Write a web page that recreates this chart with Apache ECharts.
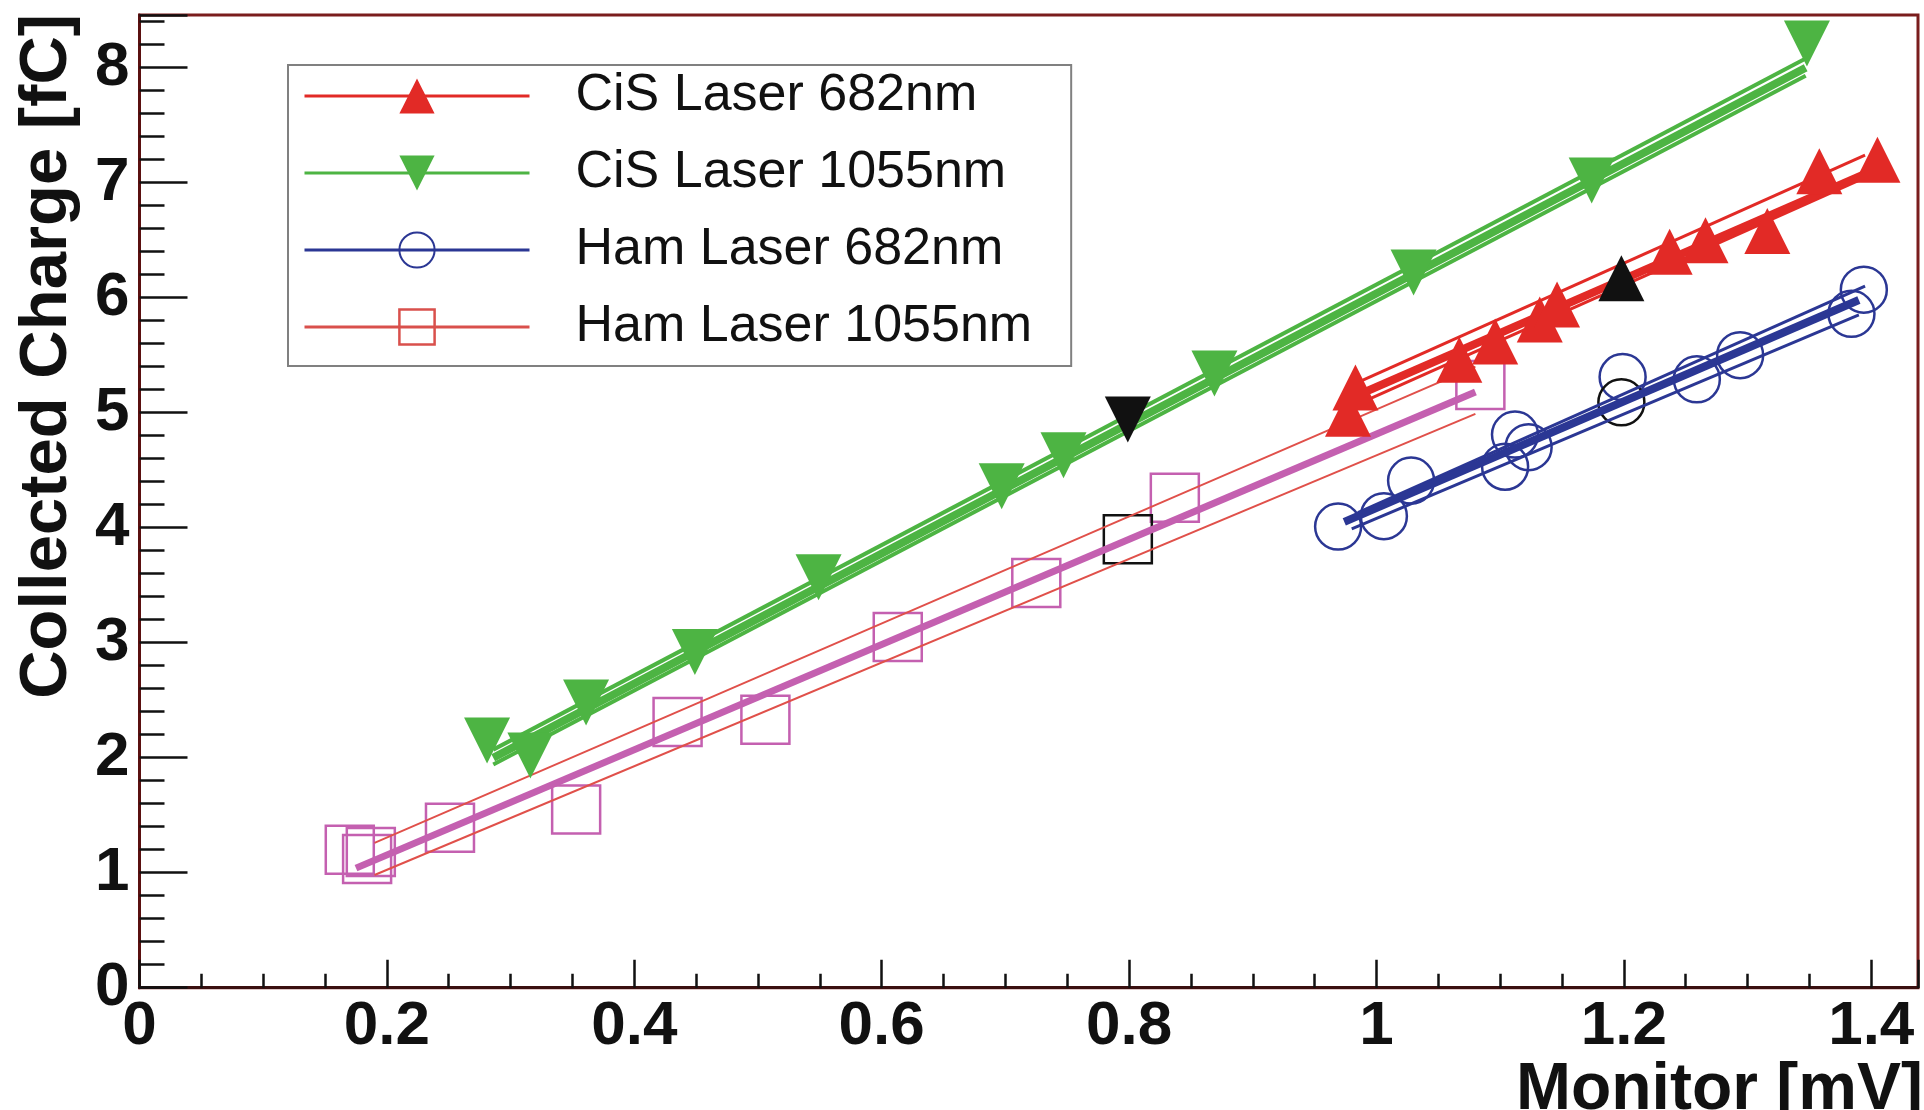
<!DOCTYPE html>
<html>
<head>
<meta charset="utf-8">
<script src="https://cdn.jsdelivr.net/npm/echarts@6/dist/echarts.min.js"></script>
<style>
html,body{margin:0;padding:0;background:#fff;}
#chart{width:1924px;height:1110px;}
</style>
</head>
<body>
<div id="chart"></div>
<script>
// ---- data ----
const seriesNames = ['CiS Laser 682nm', 'CiS Laser 1055nm', 'Ham Laser 682nm', 'Ham Laser 1055nm'];

const cis682 = [[0.977,4.99],[0.983,5.22],[1.067,5.46],[1.096,5.62],[1.132,5.81],[1.146,5.94],[1.237,6.40],[1.266,6.50],[1.316,6.58],[1.358,7.10],[1.405,7.20]];
const cis1055 = [[0.281,2.15],[0.316,2.02],[0.361,2.48],[0.449,2.92],[0.549,3.57],[0.697,4.36],[0.747,4.63],[0.869,5.34],[1.030,6.22],[1.174,7.02],[1.348,8.21]];
const ham682 = [[0.969,4.01],[1.006,4.10],[1.028,4.41],[1.104,4.53],[1.112,4.81],[1.123,4.70],[1.199,5.31],[1.259,5.29],[1.294,5.50],[1.384,5.86],[1.394,6.07]];
const ham1055 = [[0.170,1.20],[0.184,1.12],[0.187,1.18],[0.251,1.39],[0.353,1.55],[0.435,2.31],[0.506,2.33],[0.613,3.05],[0.725,3.52],[0.837,4.26],[1.084,5.24]];

// black reference points
const refCiS682 = [[1.198,6.17]];
const refCiS1055 = [[0.799,4.94]];
const refHam682 = [[1.198,5.09]];
const refHam1055 = [[0.799,3.90]];

// fit lines (central, upper, lower) endpoints
const fitCiS682 = [[0.98,5.13],[1.40,7.10]];
const fitCiS682Up = [[0.98,5.24],[1.395,7.24]];
const fitCiS682Lo = [[0.98,5.05],[1.39,7.02]];
const fitCiS1055 = [[0.286,2.00],[1.347,8.00]];
const fitCiS1055Up = [[0.286,2.07],[1.347,8.08]];
const fitCiS1055Lo = [[0.286,1.94],[1.347,7.93]];
const fitHam682 = [[0.974,4.05],[1.39,5.98]];
const fitHam682Up = [[0.985,4.13],[1.395,6.10]];
const fitHam682Lo = [[0.98,3.99],[1.39,5.85]];
const fitHam1055 = [[0.175,1.04],[1.08,5.18]];
const fitHam1055Up = [[0.19,1.26],[1.08,5.40]];
const fitHam1055Lo = [[0.19,0.98],[1.08,4.99]];

const xTicks = { min: 0, max: 1.4378, interval: 0.2 };
const yTicks = { min: 0, max: 8.458, interval: 1 };

// ---- styles ----
const RED = '#e22a26', GREEN = '#4db443', BLUE = '#2b3794', MAG = '#c460b0', THINRED = '#e0504a', LEGRED = '#d9504c';
const INV_TRI = 'path://M0,0L20,0L10,20Z';
const FONT = '"Liberation Sans", Arial, Helvetica, sans-serif';

function fitLine(name, data, color, width, z) {
  return { name: name, type: 'line', data: data, symbol: 'none', silent: true,
           lineStyle: { color: color, width: width }, z: z, animation: false };
}
function pts(name, data, symbol, size, style, z) {
  return { name: name, type: 'line', data: data, symbol: symbol, symbolSize: size,
           showSymbol: true, lineStyle: { opacity: 0, width: 1 }, itemStyle: style,
           z: z, silent: true, animation: false };
}

const chart = echarts.init(document.getElementById('chart'), null, { renderer: 'canvas' });
chart.setOption({
  backgroundColor: '#ffffff',
  animation: false,
  textStyle: { fontFamily: FONT },
  grid: { left: 139.5, right: 6, top: 15, bottom: 122.3, containLabel: false,
          outerBoundsMode: 'none',
          show: true, borderColor: '#7a1c1c', borderWidth: 3, backgroundColor: 'transparent' },
  legend: {
    orient: 'vertical', left: 288, top: 65,
    padding: [5, 39, 13, 15],
    backgroundColor: '#ffffff', borderColor: '#808080', borderWidth: 2,
    itemWidth: 225, itemHeight: 44, itemGap: 25,
    selectedMode: false,
    textStyle: { fontFamily: FONT, fontSize: 52, color: '#111', padding: [0, 0, 0, 41] },
    data: [
      { name: seriesNames[0], lineStyle: { color: RED, width: 3, opacity: 1 } },
      { name: seriesNames[1], lineStyle: { color: GREEN, width: 3, opacity: 1 } },
      { name: seriesNames[2], lineStyle: { color: BLUE, width: 3, opacity: 1 } },
      { name: seriesNames[3], lineStyle: { color: LEGRED, width: 3, opacity: 1 },
        itemStyle: { color: 'rgba(255,255,255,0)', borderColor: LEGRED, borderWidth: 2.5 } }
    ]
  },
  xAxis: {
    type: 'value', min: xTicks.min, max: xTicks.max, interval: xTicks.interval,
    name: 'Monitor [mV]', nameLocation: 'end', nameGap: -402,
    nameTextStyle: { fontFamily: FONT, fontSize: 66, fontWeight: 'bold', color: '#111',
                     verticalAlign: 'top', padding: [70, 0, 0, 0] },
    axisLine: { show: true, onZero: false, lineStyle: { color: '#3a1010', width: 3 } },
    axisTick: { show: true, inside: true, length: 28, lineStyle: { color: '#111', width: 2.5 } },
    minorTick: { show: true, splitNumber: 4, length: 14, lineStyle: { color: '#111', width: 2.5 } },
    splitLine: { show: false },
    axisLabel: { fontFamily: FONT, fontSize: 62, fontWeight: 'bold', color: '#111', margin: 8,
                 showMaxLabel: false,
                 formatter: function (v) { return String(Math.round(v * 10) / 10); } }
  },
  yAxis: {
    type: 'value', min: yTicks.min, max: yTicks.max, interval: yTicks.interval,
    name: 'Collected Charge [fC]', nameLocation: 'middle', nameGap: 58,
    nameTextStyle: { fontFamily: FONT, fontSize: 67, fontWeight: 'bold', color: '#111',
                     padding: [0, 0, 0, 290] },
    axisLine: { show: true, onZero: false, lineStyle: { color: '#5a1010', width: 3 } },
    axisTick: { show: true, inside: true, length: 48, lineStyle: { color: '#111', width: 2.5 } },
    minorTick: { show: true, splitNumber: 5, length: 25, lineStyle: { color: '#111', width: 2.5 } },
    splitLine: { show: false },
    axisLabel: { fontFamily: FONT, fontSize: 62, fontWeight: 'bold', color: '#111', margin: 10,
                 showMaxLabel: false }
  },
  series: [
    // hollow markers (below the lines)
    pts(seriesNames[3], ham1055, 'rect', 48, { color: 'rgba(255,255,255,0)', borderColor: MAG, borderWidth: 2.5 }, 2),
    pts(seriesNames[2], ham682, 'circle', 46, { color: 'rgba(255,255,255,0)', borderColor: BLUE, borderWidth: 2.5 }, 2),
    pts('ref Ham 1055', refHam1055, 'rect', 48, { color: 'rgba(255,255,255,0)', borderColor: '#111', borderWidth: 2.5 }, 2),
    pts('ref Ham 682', refHam682, 'circle', 46, { color: 'rgba(255,255,255,0)', borderColor: '#111', borderWidth: 2.5 }, 2),
    // fit lines
    fitLine('fit Ham 1055 up', fitHam1055Up, THINRED, 2, 3),
    fitLine('fit Ham 1055 lo', fitHam1055Lo, THINRED, 2, 3),
    fitLine('fit Ham 1055', fitHam1055, MAG, 7, 3),
    fitLine('fit Ham 682 up', fitHam682Up, BLUE, 3, 3),
    fitLine('fit Ham 682 lo', fitHam682Lo, BLUE, 3, 3),
    fitLine('fit Ham 682', fitHam682, BLUE, 8, 3),
    fitLine('fit CiS 1055 up', fitCiS1055Up, GREEN, 4, 3),
    fitLine('fit CiS 1055 lo', fitCiS1055Lo, GREEN, 4, 3),
    fitLine('fit CiS 1055', fitCiS1055, GREEN, 8, 3),
    fitLine('fit CiS 682 up', fitCiS682Up, RED, 3, 3),
    fitLine('fit CiS 682 lo', fitCiS682Lo, RED, 3, 3),
    fitLine('fit CiS 682', fitCiS682, RED, 8, 3),
    // filled markers (on top)
    pts(seriesNames[0], cis682, 'triangle', 46, { color: RED }, 4),
    pts(seriesNames[1], cis1055, INV_TRI, 46, { color: GREEN }, 4),
    pts('ref CiS 682', refCiS682, 'triangle', 46, { color: '#111' }, 5),
    pts('ref CiS 1055', refCiS1055, INV_TRI, 46, { color: '#111' }, 5)
  ]
});
</script>
</body>
</html>
